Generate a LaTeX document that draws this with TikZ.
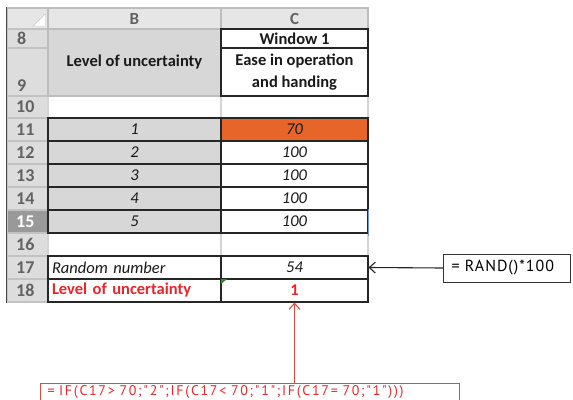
\documentclass[tikz,border=0pt]{standalone}
\usepackage{fontspec}
\setmainfont{Carlito}
\newfontfamily\notefontwide[LetterSpace=12]{PT Sans}
\newfontfamily\notefontmid[LetterSpace=6]{PT Sans}
\usetikzlibrary{arrows.meta}

\definecolor{hdrgray}{HTML}{E6E6E6}
\definecolor{hdrline}{HTML}{BDBDBD}
\definecolor{numgray}{HTML}{DDDDDD}
\definecolor{numline}{HTML}{C2C2C2}
\definecolor{numtext}{HTML}{626262}
\definecolor{selgray}{HTML}{999999}
\definecolor{bgray}{HTML}{D7D7D7}
\definecolor{gridline}{HTML}{D4D4D4}
\definecolor{cellorange}{HTML}{E8652A}
\definecolor{xlred}{HTML}{E8262A}
\definecolor{notered}{HTML}{E2483E}
\definecolor{selblue}{HTML}{6F93DA}
\definecolor{errgreen}{HTML}{2E8B2E}

% cell: name, x0, y0, x1, y1, style, text
\newcommand\xlcell[7]{%
  \node[cell,#6,minimum width={(#4)-(#2)},minimum height={(#5)-(#3)}]
    (#1) at ({((#2)+(#4))/2},{((#3)+(#5))/2}) {#7};}

\begin{document}
\begin{tikzpicture}[x=1pt,y=-1pt,
  font=\fontsize{16.5}{20}\selectfont,
  cell/.style={rectangle,inner sep=0pt,draw=black!85,line width=1.1pt,text=black!90},
  hdr/.style={fill=hdrgray,draw=hdrline,text=numtext},
  rownum/.style={fill=numgray,draw=numline},
  rowtxt/.style={anchor=west,inner sep=0pt,text=numtext,font=\fontsize{18}{20}\selectfont\bfseries},
  light/.style={draw=gridline},
  shaded/.style={fill=bgray},
  lefttext/.style={text width=165pt,inner xsep=4pt,align=left},
  notebox/.style={draw=black!80,line width=1pt},
  arrowtip/.style={-{Straight Barb[length=6pt,width=11pt,line width=1.1pt]},line width=1.1pt}]
\clip (0,0) rectangle (573,399);
\fill[white] (0,0) rectangle (573,399);

% column headings
\xlcell{corner}{7}{8}{48}{29}{hdr}{}
\fill[white,draw=hdrline,line width=0.4pt] (33,26) -- (45.5,26) -- (45.5,14) -- cycle;
\xlcell{colB}{48}{8}{221}{29}{hdr,font=\fontsize{17}{20}\selectfont\bfseries}{B}
\xlcell{colC}{221}{8}{368}{29}{hdr,font=\fontsize{17}{20}\selectfont\bfseries}{C}

% row headings
\xlcell{a8}{7}{29}{48}{48}{rownum}{}
\xlcell{a9}{7}{48}{48}{96}{rownum}{}
\xlcell{a10}{7}{96}{48}{118}{rownum}{}
\xlcell{a11}{7}{118}{48}{141}{rownum}{}
\xlcell{a12}{7}{141}{48}{164}{rownum}{}
\xlcell{a13}{7}{164}{48}{187}{rownum}{}
\xlcell{a14}{7}{187}{48}{210}{rownum}{}
\xlcell{a15}{7}{210}{48}{233}{rownum,fill=selgray}{}
\xlcell{a16}{7}{233}{48}{256}{rownum}{}
\xlcell{a17}{7}{256}{48}{279}{rownum}{}
\xlcell{a18}{7}{279}{48}{302}{rownum}{}
\draw[black!70,line width=1pt] (corner.north west) -- (a18.south west);

\node[rowtxt] (n8) at (17,38.5) {8};
\node[rowtxt] (n9) at (17,86) {9};
\node[rowtxt] (n10) at (16,107) {10};
\node[rowtxt] (n11) at (16,129.5) {11};
\node[rowtxt] (n12) at (16,152.5) {12};
\node[rowtxt] (n13) at (16,175.5) {13};
\node[rowtxt] (n14) at (16,198.5) {14};
\node[rowtxt,text=white] (n15) at (16,221.5) {15};
\node[rowtxt] (n16) at (16,244.5) {16};
\node[rowtxt] (n17) at (16,267.5) {17};
\node[rowtxt] (n18) at (16,290.5) {18};

% empty rows with light grid
\xlcell{b10}{48}{96}{221}{118}{light}{}
\xlcell{c10}{221}{96}{368}{118}{light}{}
\xlcell{b16}{48}{233}{221}{256}{light}{}
\xlcell{c16}{221}{233}{368}{256}{light}{}

% heading block
\xlcell{b89}{48}{29}{221}{96}{shaded,draw=hdrline,font=\fontsize{16.5}{20}\selectfont\bfseries}{Level of uncertainty}
\xlcell{c8}{221}{29}{368}{48}{font=\fontsize{16.5}{20}\selectfont\bfseries}{Window 1}
\xlcell{c9}{221}{48}{368}{96}{align=center,font=\fontsize{16.5}{22}\selectfont\bfseries}{Ease in operation\\and handing}

% levels and scores
\xlcell{b11}{48}{118}{221}{141}{shaded,font=\fontsize{16.5}{20}\selectfont\itshape}{1}
\xlcell{b12}{48}{141}{221}{164}{shaded,font=\fontsize{16.5}{20}\selectfont\itshape}{2}
\xlcell{b13}{48}{164}{221}{187}{shaded,font=\fontsize{16.5}{20}\selectfont\itshape}{3}
\xlcell{b14}{48}{187}{221}{210}{shaded,font=\fontsize{16.5}{20}\selectfont\itshape}{4}
\xlcell{b15}{48}{210}{221}{233}{shaded,font=\fontsize{16.5}{20}\selectfont\itshape}{5}
\xlcell{c11}{221}{118}{368}{141}{fill=cellorange,font=\fontsize{16.5}{20}\selectfont\itshape}{70}
\xlcell{c12}{221}{141}{368}{164}{font=\fontsize{16.5}{20}\selectfont\itshape}{100}
\xlcell{c13}{221}{164}{368}{187}{font=\fontsize{16.5}{20}\selectfont\itshape}{100}
\xlcell{c14}{221}{187}{368}{210}{font=\fontsize{16.5}{20}\selectfont\itshape}{100}
\xlcell{c15}{221}{210}{368}{233}{font=\fontsize{16.5}{20}\selectfont\itshape}{100}
\draw[selblue,line width=1pt] (c15.north east) -- ([yshift=-2pt]c15.south east);

% simulation rows
\xlcell{b17}{48}{256}{221}{279}{lefttext,font=\fontsize{16.5}{20}\selectfont\itshape}{Random number}
\xlcell{c17}{221}{256}{368}{279}{font=\fontsize{16.5}{20}\selectfont\itshape}{54}
\xlcell{b18}{48}{279}{221}{302}{lefttext,text=xlred,font=\fontsize{16.5}{20}\selectfont\bfseries}{Level of uncertainty}
\xlcell{c18}{221}{279}{368}{302}{text=xlred,font=\fontsize{16.5}{20}\selectfont\bfseries}{1}
\fill[errgreen] ([xshift=0.6pt,yshift=-0.6pt]c18.north west) -- ++(6,0) -- ++(-6,5) -- cycle;

% formula call-outs
\node[notebox,anchor=west,minimum width=127pt,minimum height=28pt,
      text width=111pt,inner xsep=8pt,align=left,
      font=\notefontmid\fontsize{16}{18}\selectfont] (rand) at (443,268) {= RAND()*100};
\draw[arrowtip,black!85] (rand.west) -- (c17.east);

\node[notebox,draw=notered,text=xlred,anchor=north west,minimum width=419pt,
      inner xsep=7pt,inner ysep=0pt,text height=12pt,text depth=22pt,
      text width=405pt,align=left,
      font=\notefontwide\fontsize{14}{16}\selectfont] (iffml) at (40,383)
      {= IF(C17> 70;"2";IF(C17< 70;"1";IF(C17= 70;"1")))};
\draw[arrowtip,notered] (iffml.north -| c18.south) -- (c18.south);
\end{tikzpicture}
\end{document}
